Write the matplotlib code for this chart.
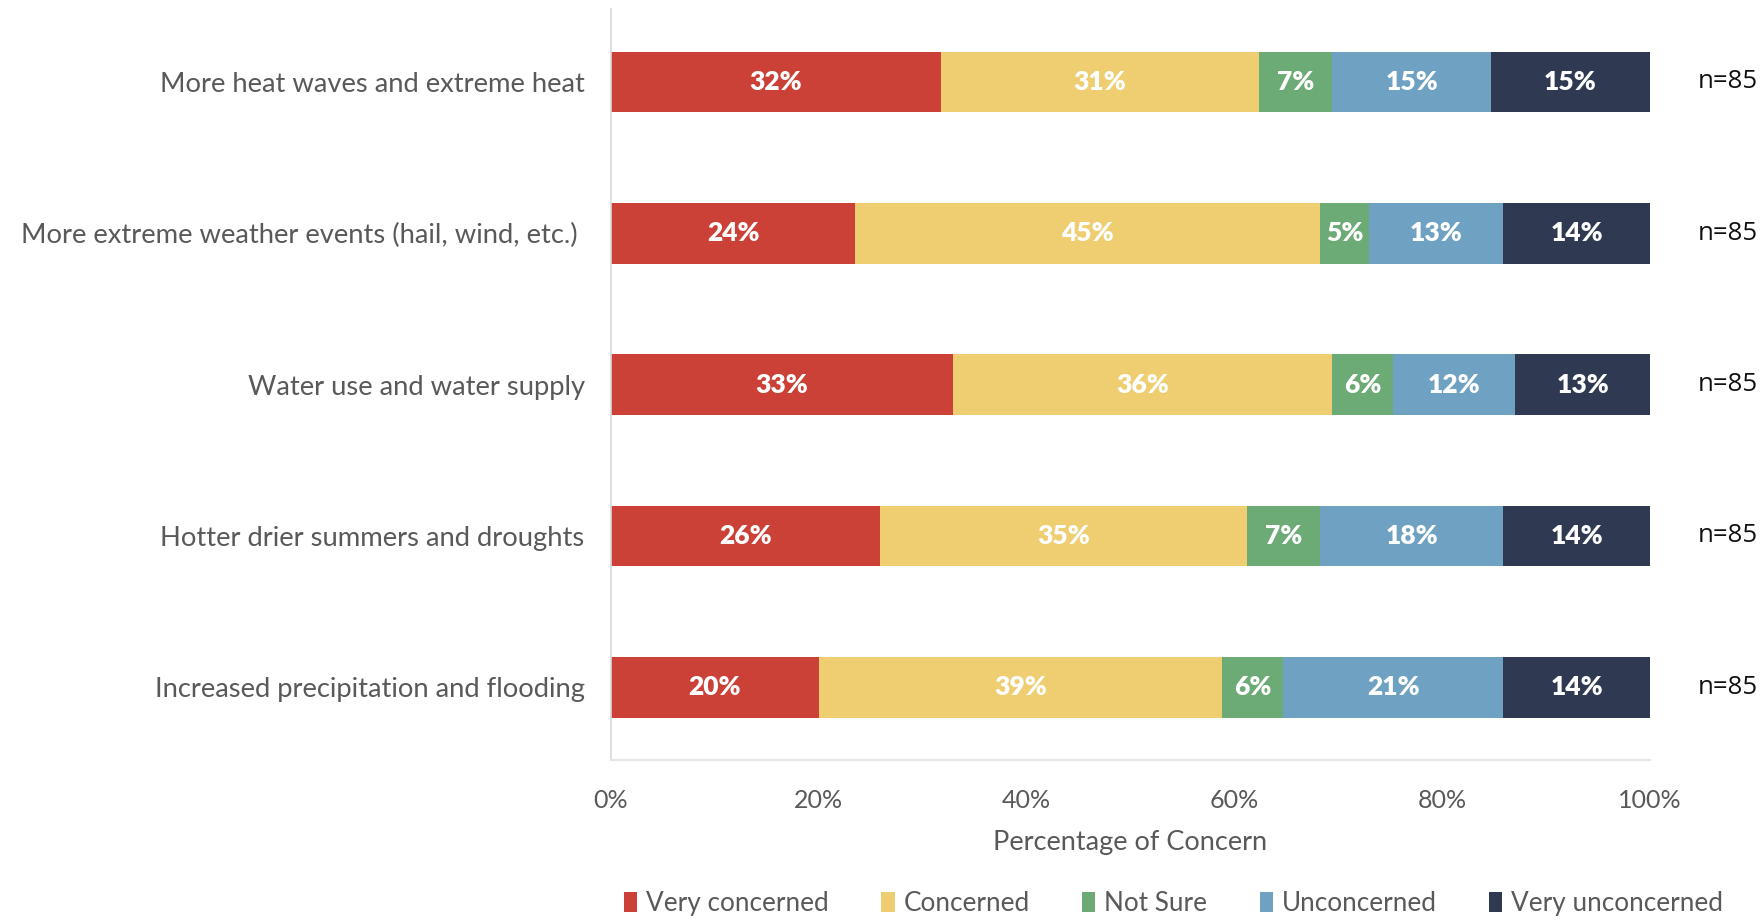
import numpy as np
import matplotlib.pyplot as plt
from matplotlib.patches import Patch

# survey responses (counts out of n) per climate concern
concerns = [
    "More heat waves and extreme heat",
    "More extreme weather events (hail, wind, etc.) ",
    "Water use and water supply",
    "Hotter drier summers and droughts",
    "Increased precipitation and flooding",
]
levels = ["Very concerned", "Concerned", "Not Sure", "Unconcerned", "Very unconcerned"]
very_concerned = [27, 20, 28, 22, 17]
concerned = [26, 38, 31, 30, 33]
not_sure = [6, 4, 5, 6, 5]
unconcerned = [13, 11, 10, 15, 18]
very_unconcerned = [13, 12, 11, 12, 12]
n_resp = [85, 85, 85, 85, 85]

colors = ["#CB4037", "#EECE70", "#6CAA76", "#6EA1C2", "#2F3A52"]
gray = "#595959"

plt.rcParams["font.family"] = ["Lato", "DejaVu Sans"]

counts = np.array([very_concerned, concerned, not_sure, unconcerned, very_unconcerned], dtype=float)
pct = counts / np.array(n_resp, dtype=float) * 100

fig = plt.figure(figsize=(17.65, 9.22), dpi=100)
ax = fig.add_axes([0.3462, 0.1757, 0.5886, 0.8143])

y = np.arange(len(concerns))
left = np.zeros(len(concerns))
for i, lvl in enumerate(levels):
    bars = ax.barh(y, pct[i], left=left, height=0.40, color=colors[i], label=lvl)
    for b, v in zip(bars, pct[i]):
        ax.text(b.get_x() + b.get_width() / 2, b.get_y() + b.get_height() / 2,
                f"{v:.0f}%", ha="center", va="center", color="white",
                fontsize=19, fontweight="heavy")
    left += pct[i]

# sample size at the right of each bar
for yi, n in zip(y, n_resp):
    ax.text(1.075, yi, f"n={n}", transform=ax.get_yaxis_transform(),
            ha="center", va="center", fontsize=18.5, color="#111111",
            family=["Open Sans", "DejaVu Sans"])

ax.set_xlim(0, 100)
ax.set_ylim(4.48, -0.48)
ax.set_yticks(y)
ax.set_yticklabels(concerns, fontsize=19.7, color=gray)
ax.set_xticks(np.arange(0, 101, 20))
ax.set_xticklabels([f"{t}%" for t in range(0, 101, 20)], fontsize=18, color=gray)
ax.tick_params(axis="both", length=0)
ax.tick_params(axis="x", pad=21)
ax.tick_params(axis="y", pad=19)
ax.set_xlabel("Percentage of Concern", fontsize=19.5, color=gray, labelpad=13)

for s in ["top", "right"]:
    ax.spines[s].set_visible(False)
ax.spines["left"].set_color("#D9D9D9")
ax.spines["bottom"].set_color("#E6E6E6")
ax.spines["left"].set_linewidth(1.2)
ax.spines["bottom"].set_linewidth(1.5)

handles = [Patch(facecolor=c, label=l) for c, l in zip(colors, levels)]
fig.legend(handles=handles, loc="center", bbox_to_anchor=(0.665, 0.02),
           ncol=5, frameon=False, fontsize=18.8, handlelength=0.5, handleheight=0.75,
           handletextpad=0.35, columnspacing=2.0, labelcolor=gray)

fig.savefig("out.png", dpi=100)
